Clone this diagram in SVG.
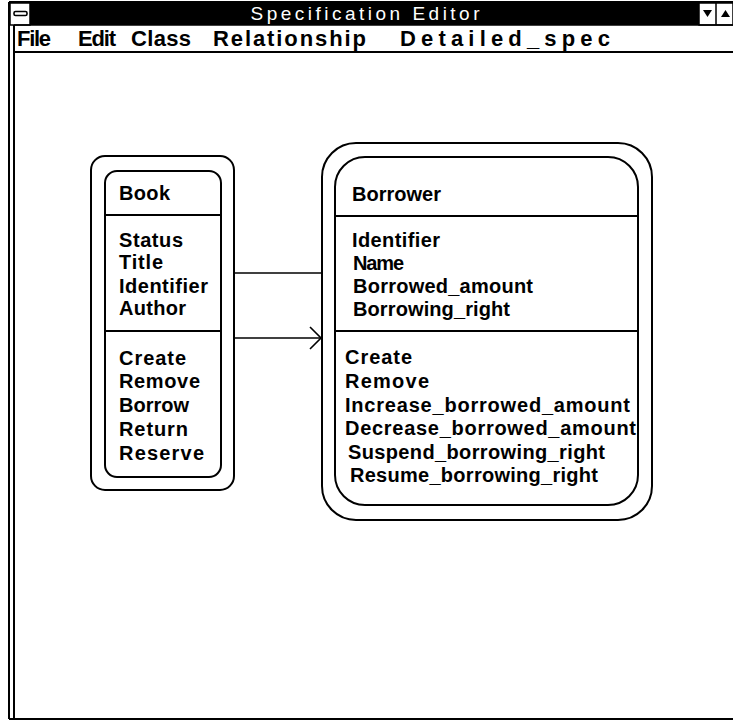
<svg xmlns="http://www.w3.org/2000/svg" width="733" height="721" viewBox="0 0 733 721">
  <defs>
    <style>
      .txt { font-family: "Liberation Sans", Arial, sans-serif; font-weight: bold; font-size: 20px; fill: #000; }
      .menu { font-family: "Liberation Sans", Arial, sans-serif; font-weight: bold; font-size: 22px; fill: #000; }
      .title { font-family: "Liberation Sans", Arial, sans-serif; font-size: 19px; fill: #fff; }
      .frame { fill: none; stroke: #000; stroke-width: 2; }
      .box { fill: none; stroke: #000; stroke-width: 2; }
      .sep { stroke: #000; stroke-width: 2; }
      .conn { stroke: #000; stroke-width: 1.6; fill: none; }
    </style>
    <marker id="openArrow" markerUnits="userSpaceOnUse" markerWidth="14" markerHeight="26" refX="12" refY="12" orient="auto">
      <path d="M1,1 L12,12 L1,23" fill="none" stroke="#000" stroke-width="1.6"/>
    </marker>
  </defs>

  <rect width="733" height="721" fill="#fff"/>

  <!-- window frame -->
  <g id="window">
    <line x1="9" y1="2" x2="733" y2="2" class="frame"/>
    <line x1="9" y1="2" x2="9" y2="719" class="frame"/>
    <line x1="14" y1="25" x2="14" y2="719" class="frame"/>
    <line x1="9" y1="719" x2="733" y2="719" class="frame"/>
    <!-- title bar -->
    <rect x="30" y="3" width="669" height="22" fill="#000"/>
    <text x="365" y="20" text-anchor="middle" class="title" textLength="229" lengthAdjust="spacing">Specification Editor</text>
    <!-- system menu box -->
    <rect x="10" y="3" width="20" height="22" fill="#fff" stroke="#000" stroke-width="1.5"/>
    <rect x="14" y="11.5" width="13" height="4" rx="1.5" fill="#fff" stroke="#000" stroke-width="1.6"/>
    <!-- minimize / maximize buttons -->
    <rect x="699" y="3" width="34" height="22" fill="#fff" stroke="#000" stroke-width="1.5"/>
    <line x1="716" y1="3" x2="716" y2="25" stroke="#000" stroke-width="1.5"/>
    <polygon points="703,10 712,10 707.5,17" fill="#000"/>
    <polygon points="721,17 730,17 725.5,10" fill="#000"/>
    <!-- menu bar -->
    <line x1="14" y1="25" x2="733" y2="25" stroke="#000" stroke-width="1.5"/>
    <line x1="14" y1="52" x2="733" y2="52" stroke="#000" stroke-width="2"/>
    <text x="17" y="46" class="menu" textLength="34" lengthAdjust="spacing">File</text>
    <text x="78" y="46" class="menu" textLength="38" lengthAdjust="spacing">Edit</text>
    <text x="131" y="46" class="menu" textLength="60" lengthAdjust="spacing">Class</text>
    <text x="213" y="46" class="menu" textLength="153" lengthAdjust="spacing">Relationship</text>
    <text x="400" y="46" class="menu" textLength="210" lengthAdjust="spacing">Detailed_spec</text>
  </g>

  <!-- class Book -->
  <g id="book">
    <rect x="91" y="156" width="143" height="334" rx="14" class="box"/>
    <rect x="105" y="171" width="116" height="306" rx="12" class="box"/>
    <line x1="105" y1="215" x2="221" y2="215" class="sep"/>
    <line x1="105" y1="331" x2="221" y2="331" class="sep"/>
    <text x="119" y="200" class="txt" textLength="51" lengthAdjust="spacing">Book</text>
    <text x="119" y="247" class="txt" textLength="64" lengthAdjust="spacing">Status</text>
    <text x="119" y="269" class="txt" textLength="44" lengthAdjust="spacing">Title</text>
    <text x="119" y="293" class="txt" textLength="89" lengthAdjust="spacing">Identifier</text>
    <text x="119" y="315" class="txt" textLength="67" lengthAdjust="spacing">Author</text>
    <text x="119" y="365" class="txt" textLength="67" lengthAdjust="spacing">Create</text>
    <text x="119" y="388" class="txt" textLength="81" lengthAdjust="spacing">Remove</text>
    <text x="119" y="412" class="txt" textLength="70" lengthAdjust="spacing">Borrow</text>
    <text x="119" y="436" class="txt" textLength="69" lengthAdjust="spacing">Return</text>
    <text x="119" y="460" class="txt" textLength="85" lengthAdjust="spacing">Reserve</text>
  </g>

  <!-- class Borrower -->
  <g id="borrower">
    <rect x="322" y="143" width="330" height="377" rx="34" class="box"/>
    <rect x="335" y="157" width="303" height="348" rx="30" class="box"/>
    <line x1="335" y1="216" x2="638" y2="216" class="sep"/>
    <line x1="335" y1="331" x2="638" y2="331" class="sep"/>
    <text x="352" y="201" class="txt" textLength="89" lengthAdjust="spacing">Borrower</text>
    <text x="352" y="247" class="txt" textLength="88" lengthAdjust="spacing">Identifier</text>
    <text x="353" y="270" class="txt" textLength="51" lengthAdjust="spacing">Name</text>
    <text x="353" y="293" class="txt" textLength="180" lengthAdjust="spacing">Borrowed_amount</text>
    <text x="353" y="316" class="txt" textLength="157" lengthAdjust="spacing">Borrowing_right</text>
    <text x="345" y="364" class="txt" textLength="67" lengthAdjust="spacing">Create</text>
    <text x="345" y="388" class="txt" textLength="84" lengthAdjust="spacing">Remove</text>
    <text x="345" y="412" class="txt" textLength="285" lengthAdjust="spacing">Increase_borrowed_amount</text>
    <text x="345" y="435" class="txt" textLength="291" lengthAdjust="spacing">Decrease_borrowed_amount</text>
    <text x="348" y="459" class="txt" textLength="257" lengthAdjust="spacing">Suspend_borrowing_right</text>
    <text x="350" y="482" class="txt" textLength="248" lengthAdjust="spacing">Resume_borrowing_right</text>
  </g>

  <!-- relationships -->
  <g id="connectors">
    <line x1="234" y1="273" x2="322" y2="273" class="conn"/>
    <line x1="234" y1="338" x2="321" y2="338" class="conn" marker-end="url(#openArrow)"/>
  </g>
</svg>
